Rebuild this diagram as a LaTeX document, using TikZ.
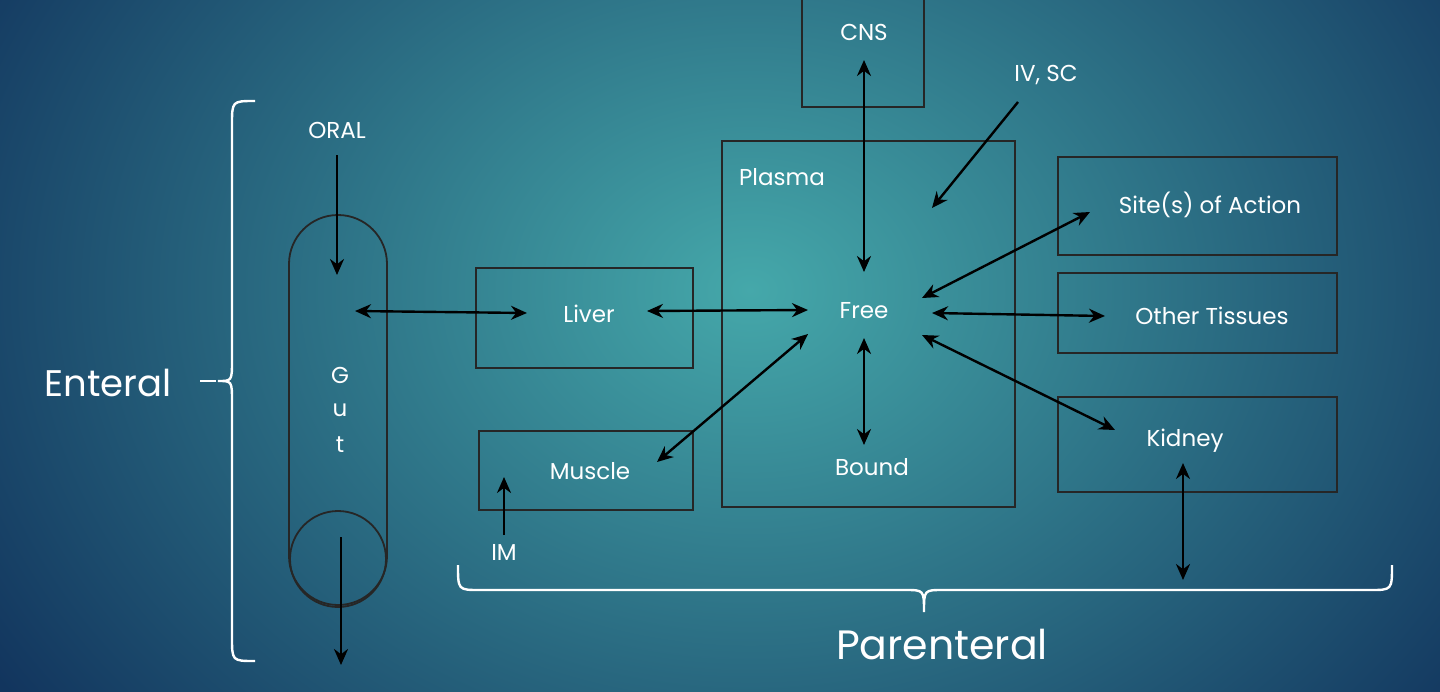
\documentclass[tikz,border=0pt]{standalone}
\usepackage{fontspec}
\setmainfont{Poppins}
\usetikzlibrary{arrows.meta}
\definecolor{bgin}{HTML}{45A8AA}
\definecolor{bgout}{HTML}{12355E}
\begin{document}
\begin{tikzpicture}[x=0.5pt,y=-0.5pt,
  box/.style={draw=black!85,line width=0.9pt},
  lbl/.style={text=white,font=\fontsize{11.5}{14}\selectfont,inner sep=0pt},
  arr/.style={draw=black,line width=1.2pt,-{Stealth[length=8pt,width=7pt]}},
  darr/.style={draw=black,line width=1.2pt,{Stealth[length=8pt,width=7pt]}-{Stealth[length=8pt,width=7pt]}},
  brace/.style={draw=white!90,line width=1.2pt}]
\useasboundingbox (0,0) rectangle (1440,691);
\shade[inner color=bgin,outer color=bgout,shading=radial] (-150,-420) rectangle (1650,1000);
\clip (0,0) rectangle (1440,691);
% boxes
\draw[box] (802,-5) rectangle (924,107);
\draw[box] (722,141) rectangle (1015,507);
\draw[box] (1058,157) rectangle (1337,255);
\draw[box] (1058,273) rectangle (1337,353);
\draw[box] (1058,397) rectangle (1337,492);
\draw[box] (476,268) rectangle (693,368);
\draw[box] (479,431) rectangle (693,510);
% gut
\draw[box] (289,264) arc[start angle=180,end angle=360,radius=49] -- (387,556) arc[start angle=0,end angle=180,radius=49] -- cycle;
\draw[box] (338,559) circle[radius=48];
% texts
\node[lbl] (cns) at (864,32) {CNS};
\node[lbl] (plasma) at (782,177) {Plasma};
\node[lbl] (free) at (864,311) {Free};
\node[lbl] (bound) at (872,467) {Bound};
\node[lbl] (site) at (1210,205) {Site(s) of Action};
\node[lbl] (other) at (1212,316) {Other Tissues};
\node[lbl] (kidney) at (1185,441) {Kidney};
\node[lbl] (liver) at (589,314) {Liver};
\node[lbl] (muscle) at (590,471) {Muscle};
\node[lbl] (oral) at (337,130) {ORAL};
\node[lbl] (ivsc) at (1046,75) {IV, SC};
\node[lbl] (im) at (504,552) {IM};
\node[lbl] (g1) at (340,375) {G};
\node[lbl] (g2) at (340,410) {u};
\node[lbl] (g3) at (340,445) {t};
\node[text=white,font=\fontsize{18.5}{22}\selectfont,inner sep=0pt] (ent) at (108,383) {Enteral};
\node[text=white,font=\fontsize{20.5}{24}\selectfont,inner sep=0pt] (par) at (942,645) {Parenteral};
% arrow points
\coordinate (o1) at (337,155); \coordinate (o2) at (337,275);
\coordinate (u1) at (341,537); \coordinate (u2) at (341,665);
\coordinate (gl1) at (355,311); \coordinate (gl2) at (527,313);
\coordinate (lf1) at (647,311); \coordinate (lf2) at (808,310);
\coordinate (c1) at (864,60); \coordinate (c2) at (864,272);
\coordinate (iv1) at (1018,102); \coordinate (iv2) at (932,208);
\coordinate (s1) at (1090,212); \coordinate (s2) at (922,298);
\coordinate (t1) at (932,313); \coordinate (t2) at (1105,316);
\coordinate (k1) at (922,335); \coordinate (k2) at (1115,430);
\coordinate (b1) at (864,338); \coordinate (b2) at (864,445);
\coordinate (m1) at (808,334); \coordinate (m2) at (657,462);
\coordinate (im1) at (504,535); \coordinate (im2) at (504,477);
\coordinate (kd1) at (1183,463); \coordinate (kd2) at (1183,580);
\draw[arr] (o1) -- (o2);
\draw[arr] (u1) -- (u2);
\draw[darr] (gl1) -- (gl2);
\draw[darr] (lf1) -- (lf2);
\draw[darr] (c1) -- (c2);
\draw[arr] (iv1) -- (iv2);
\draw[darr] (s1) -- (s2);
\draw[darr] (t1) -- (t2);
\draw[darr] (k1) -- (k2);
\draw[darr] (b1) -- (b2);
\draw[darr] (m1) -- (m2);
\draw[arr] (im1) -- (im2);
\draw[darr] (kd1) -- (kd2);
% braces
\draw[brace] (255,101) .. controls (232,101) .. (232,125) -- (232,360) .. controls (232,381) .. (218,381) .. controls (232,381) .. (232,402) -- (232,637) .. controls (232,661) .. (255,661);
\draw[brace] (200,381) -- (216,381);
\draw[brace] (458,565) .. controls (458,590) .. (480,590) -- (905,590) .. controls (924,590) .. (924,612) .. controls (924,590) .. (943,590) -- (1370,590) .. controls (1392,590) .. (1392,565);
\end{tikzpicture}
\end{document}
